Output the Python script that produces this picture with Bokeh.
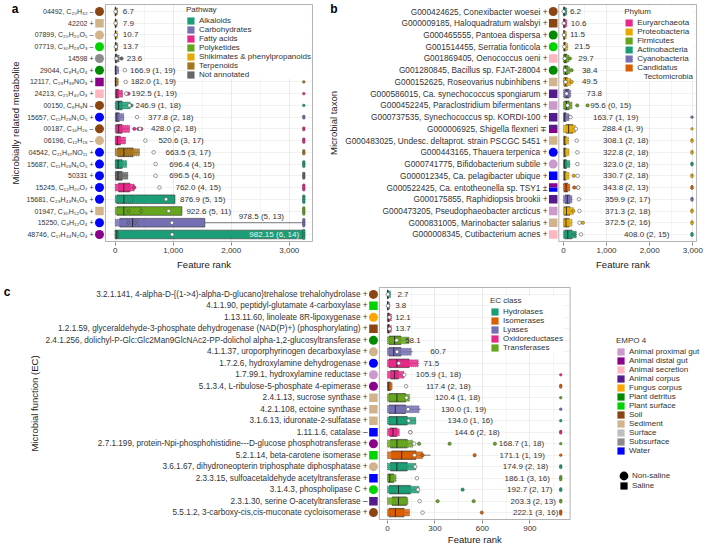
from bokeh.plotting import figure
from bokeh.models import (ColumnDataSource, FixedTicker, NumeralTickFormatter, LinearAxis,
                          Range1d, LabelSet, Legend, LegendItem)
from bokeh.layouts import column, row
from bokeh.core.properties import value
from bokeh.embed import file_html
from bokeh.resources import INLINE

FONT = "Liberation Sans"
TXT = "#333333"
NAN = float("nan")

# ---------------- legends / colour keys ----------------
EMPO = ["Animal proximal gut", "Animal distal gut", "Animal secretion", "Animal corpus",
        "Fungus corpus", "Plant detritus", "Plant surface", "Soil", "Sediment",
        "Surface", "Subsurface", "Water"]
EMPO_COL = ["#CC99CC", "#8B008B", "#FFB6C1", "#551A8B", "#FFA500", "#008B00",
            "#00D400", "#8B4513", "#D2B48C", "#BEBEBE", "#8C8C8C", "#0000FF"]
PATHWAYS = ["Alkaloids", "Carbohydrates", "Fatty acids", "Polyketides",
            "Shikimates & phenylpropanoids", "Terpenoids", "Not annotated"]
PATHWAY_COL = ["#1B9E77", "#7570B3", "#E7298A", "#66A61E", "#E6AB02", "#A6761D", "#666666"]
PHYLA = ["Euryarchaeota", "Proteobacteria", "Firmicutes", "Actinobacteria",
         "Cyanobacteria", "Candidatus Tectomicrobia"]
PHYLUM_COL = ["#E7298A", "#E6AB02", "#66A61E", "#1B9E77", "#7570B3", "#D95F02"]
EC = ["Hydrolases", "Isomerases", "Lyases", "Oxidoreductases", "Transferases"]
EC_COL = ["#1B9E77", "#D95F02", "#7570B3", "#E7298A", "#66A61E"]

# ---------------- panel a: metabolites ----------------
names_a = ["04492, C₂₀H₃₂", "42202", "07899, C₂₀H₂₀O₅", "07719, C₃₀H₂₈O₃", "14598",
           "29044, C₈H₆O₄", "12117, C₂₈H₃₉NO₃", "24213, C₂₅H₄₀O₃", "00150, C₈H₉N",
           "15657, C₁₅H₂₉N₅O₅", "00187, C₁₆H₂₆", "06196, C₁₂H₁₈", "04542, C₂₁H₃₇NO₁₁",
           "15687, C₁₅H₂₈N₆O₅", "50331", "15245, C₁₂H₂₀O₇", "15681, C₂₃H₄₃N₅O₈",
           "01947, C₃₀H₅₂O₉", "15250, C₈H₁₂O₄", "48746, C₁₇H₃₄N₂O₄"]
signs_a = ["–", "+", "–", "–", "+", "+", "+", "+", "–", "+", "–", "–", "+", "+", "+",
           "+", "+", "+", "+", "+"]
empo_a = ["Soil", "Sediment", "Sediment", "Plant surface", "Subsurface", "Plant detritus",
          "Animal distal gut", "Animal secretion", "Soil", "Water", "Soil", "Sediment",
          "Water", "Water", "Water", "Water", "Water", "Sediment", "Water", "Animal distal gut"]
saline_a = ["N", "S", "N", "N", "N", "N", "S", "S", "N", "N", "N", "N", "N", "N", "N",
            "N", "N", "S", "N", "N"]
pathway_a = ["Terpenoids", "Terpenoids", "Shikimates & phenylpropanoids", "Terpenoids",
             "Not annotated", "Carbohydrates", "Terpenoids", "Fatty acids", "Alkaloids",
             "Carbohydrates", "Fatty acids", "Fatty acids", "Terpenoids", "Alkaloids",
             "Not annotated", "Fatty acids", "Alkaloids", "Polyketides", "Carbohydrates",
             "Alkaloids"]
q1_a = [2, 2, 3, 4, 5, 3, 3, 10, 20, 10, 20, 10, 45, 10, 10, 60, 30, 30, 80, 0]
med_a = [5, 5, 7, 9, 12, 8, 8, 30, 60, 30, 60, 40, 150, 50, 50, 150, 150, 150, 300, 30]
q3_a = [12, 12, 15, 18, 25, 20, 20, 60, 120, 70, 120, 90, 310, 120, 120, 255, 1030, 1150, 1545, 3250]
cloud_a = [40, 35, 40, 45, 70, 60, 55, 130, 260, 150, 250, 180, 420, 200, 220, 330, 300, 450, 400, 60]
whi_a = [40, 35, 40, 45, 70, 60, 55, 130, 260, 150, 250, 180, 420, 200, 220, 330, 1030, 1150, 3250, 3250]
mean_a = [6.7, 7.9, 10.7, 13.7, 23.6, 166.9, 182.0, 192.5, 246.9, 377.8, 428.0, 520.6,
          663.5, 696.4, 696.5, 762.0, 876.9, 922.6, 978.5, 982.15]
nout_a = [None] * 5 + [1, 1, 1, 1, 2, 2, 3, 3, 4, 4, 4, 5, 5, 5, 6]
nin_a = [None] * 5 + [19, 19, 19, 18, 18, 18, 17, 17, 15, 16, 15, 15, 11, 13, 14]
extra_a_x = [110, 200, 230, 280, 330, 400, 450, 330, 228, 450, 228, 340]
extra_a_row = [5, 8, 8, 9, 11, 11, 11, 16, 18, 18, 19, 19]
outlier_a = 3250
labelx_a = [133, 133, 133, 133, 200, 258, 267, 283, 350, 567, 617, 745, 867, 933, 933,
            1039, 1117, 1228, 2128, 2311]

# ---------------- panel b: taxa ----------------
names_b = ["G000424625, Conexibacter woesei", "G000009185, Haloquadratum walsbyi",
           "G000465555, Pantoea dispersa", "G001514455, Serratia fonticola",
           "G001869405, Oenococcus oeni", "G001280845, Bacillus sp. FJAT-28004",
           "G000152625, Roseovarius nubinhibens", "G000586015, Ca. synechococcus spongiarum",
           "G000452245, Paraclostridium bifermentans", "G000737535, Synechococcus sp. KORDI-100",
           "G000006925, Shigella flexneri", "G000483025, Undesc. deltaprot. strain PSCGC 5451",
           "G000443165, Thauera terpenica", "G000741775, Bifidobacterium subtile",
           "G000012345, Ca. pelagibacter ubique", "G000522425, Ca. entotheonella sp. TSY1",
           "G000175855, Raphidiopsis brookii", "G000473205, Pseudophaeobacter arcticus",
           "G000831005, Marinobacter salarius", "G000008345, Cutibacterium acnes"]
signs_b = ["+"] * 10 + ["∓"] + ["+"] * 4 + ["±"] + ["+"] * 4
empo_b = ["Soil", "Soil", "Plant detritus", "Plant surface", "Animal secretion",
          "Plant detritus", "Sediment", "Animal corpus", "Animal proximal gut",
          "Animal corpus", "Animal corpus|Animal distal gut", "Sediment", "Water",
          "Animal proximal gut", "Water", "Animal distal gut|Water", "Animal corpus",
          "Animal proximal gut", "Sediment", "Animal secretion"]
saline_b = ["N", "S", "N", "N", "S", "N", "S", "S", "S", "S", "S|N", "S", "N", "N",
            "S", "S|S", "S", "S", "S", "S"]
phylum_b = ["Actinobacteria", "Euryarchaeota", "Proteobacteria", "Proteobacteria",
            "Firmicutes", "Firmicutes", "Proteobacteria", "Cyanobacteria", "Firmicutes",
            "Cyanobacteria", "Proteobacteria", "Proteobacteria", "Proteobacteria",
            "Actinobacteria", "Proteobacteria", "Candidatus Tectomicrobia", "Cyanobacteria",
            "Proteobacteria", "Proteobacteria", "Actinobacteria"]
q1_b = [5, 5, 5, 10, 15, 20, 20, 30, 30, 10, 60, 10, 10, 10, 10, 20, 40, 20, 20, 30]
med_b = [15, 15, 15, 25, 40, 50, 50, 80, 70, 30, 120, 30, 30, 30, 30, 60, 90, 70, 60, 100]
q3_b = [40, 40, 35, 50, 80, 100, 90, 130, 130, 60, 220, 60, 60, 70, 60, 100, 150, 150, 130, 200]
cloud_b = [80, 80, 70, 100, 130, 150, 170, 170, 200, 130, 280, 120, 130, 150, 130, 150, 200, 230, 200, 300]
whi_b = cloud_b
mean_b = [6.2, 10.6, 11.5, 21.5, 29.7, 38.4, 49.5, 73.8, 95.6, 163.7, 288.4, 308.1,
          322.8, 323.0, 330.7, 343.8, 359.9, 371.3, 372.5, 408.0]
nout_b = [None] * 8 + [0, 1, 1, 2, 2, 2, 2, 2, 2, 2, 2, 2]
nin_b = [None] * 8 + [15, 19, 9, 18, 18, 18, 18, 13, 17, 18, 16, 15]
extra_b_x = [150, 190, 190, 320, 560, 150, 240, 250, 340, 450, 250, 230]
extra_b_row = [5, 6, 7, 9, 9, 10, 15, 16, 16, 19, 20, 18]
outlier_b = 2980
labelx_b = [150, 171, 150, 257, 343, 428, 428, 535, 621, 685, 900, 920, 920, 920, 920,
            920, 964, 964, 964, 1406]

# ---------------- panel c: functions ----------------
names_c = ["3.2.1.141, 4-alpha-D-{(1->4)-alpha-D-glucano}trehalose trehalohydrolase",
           "4.1.1.90, peptidyl-glutamate 4-carboxylase",
           "1.13.11.60, linoleate 8R-lipoxygenase",
           "1.2.1.59, glyceraldehyde-3-phosphate dehydrogenase (NAD(P)+) (phosphorylating)",
           "2.4.1.256, dolichyl-P-Glc:Glc2Man9GlcNAc2-PP-dolichol alpha-1,2-glucosyltransferase",
           "4.1.1.37, uroporphyrinogen decarboxylase",
           "1.7.2.6, hydroxylamine dehydrogenase",
           "1.7.99.1, hydroxylamine reductase",
           "5.1.3.4, L-ribulose-5-phosphate 4-epimerase",
           "2.4.1.13, sucrose synthase",
           "4.2.1.108, ectoine synthase",
           "3.1.6.13, iduronate-2-sulfatase",
           "1.11.1.6, catalase",
           "2.7.1.199, protein-Npi-phosphohistidine---D-glucose phosphotransferase",
           "5.2.1.14, beta-carotene isomerase",
           "3.6.1.67, dihydroneopterin triphosphate diphosphatase",
           "2.3.3.15, sulfoacetaldehyde acetyltransferase",
           "3.1.4.3, phospholipase C",
           "2.3.1.30, serine O-acetyltransferase",
           "5.5.1.2, 3-carboxy-cis,cis-muconate cycloisomerase"]
signs_c = ["+"] * 12 + ["–"] + ["+"] * 5 + ["–", "+"]
empo_c = ["Soil", "Plant surface", "Fungus corpus", "Soil", "Plant detritus", "Sediment",
          "Water", "Animal proximal gut", "Animal distal gut", "Sediment", "Sediment",
          "Sediment", "Water", "Animal distal gut", "Plant surface", "Sediment", "Water",
          "Plant surface", "Animal corpus", "Soil"]
saline_c = ["N", "S", "N", "S", "N", "N", "N", "N", "N", "S", "S", "S", "S", "N", "S",
            "N", "S", "N", "S", "N"]
ec_c = ["Hydrolases", "Lyases", "Oxidoreductases", "Oxidoreductases", "Transferases",
        "Lyases", "Oxidoreductases", "Oxidoreductases", "Isomerases", "Transferases",
        "Lyases", "Hydrolases", "Oxidoreductases", "Transferases", "Isomerases",
        "Hydrolases", "Transferases", "Hydrolases", "Transferases", "Isomerases"]
q1_c = [0, 0, 2, 2, 10, 10, 10, 20, 2, 10, 10, 10, 15, 20, 27, 20, 5, 13, 30, 10]
med_c = [1, 2, 6, 6, 45, 40, 60, 45, 8, 60, 50, 60, 35, 60, 90, 60, 15, 70, 70, 50]
q3_c = [5, 5, 12, 12, 85, 85, 137, 70, 20, 115, 115, 125, 60, 125, 180, 125, 40, 145, 120, 105]
cloud_c = [20, 15, 25, 25, 137, 150, 195, 105, 30, 140, 200, 180, 75, 160, 222, 180, 55, 200, 130, 140]
whi_c = [20, 15, 25, 25, 137, 160, 195, 105, 30, 140, 210, 180, 75, 160, 272, 180, 55, 200, 130, 140]
mean_c = [2.7, 3.8, 12.1, 13.7, 58.1, 60.7, 71.5, 105.9, 117.4, 120.4, 130.0, 134.0,
          144.6, 168.7, 171.1, 174.9, 186.1, 192.7, 203.3, 222.1]
nout_c = [None] * 7 + [1, 2, 1, 1, 1, 2, 1, 1, 2, 3, 2, 2, 3]
nin_c = [None] * 7 + [18, 18, 18, 19, 16, 18, 18, 19, 18, 16, 17, 13, 16]
extra_c_x = [145, 200, 393, 679, 222, 551, 475, 317, 545, 596]
extra_c_row = [13, 14, 14, 14, 15, 15, 18, 19, 19, 20]
outlier_c = 1095
labelx_c = [63, 49, 49, 49, 112, 271, 228, 179, 243, 300, 338, 380, 423, 704, 708, 729,
            740, 756, 778, 793]

EMPO_MAP = dict(zip(EMPO, EMPO_COL))
MC = 11  # px column between the category labels and the panel, for the EMPO markers


def legend_kw(fs="8px"):
    return dict(padding=3, spacing=0, glyph_height=9, glyph_width=9, label_height=9,
                label_standoff=4, label_text_font=FONT, label_text_font_size=fs,
                label_text_color=TXT, title_text_font=FONT, title_text_font_size=fs,
                title_text_font_style="normal", title_text_color=TXT, title_standoff=2,
                border_line_color=None, background_fill_color="white",
                background_fill_alpha=1)


def style_axis(ax):
    ax.axis_line_color = None
    ax.major_tick_line_color = "#333333"
    ax.major_tick_line_width = 0.6
    ax.major_tick_out = 3
    ax.major_tick_in = 0
    ax.minor_tick_line_color = None
    ax.major_label_text_font = FONT
    ax.major_label_text_font_size = "8px"
    ax.major_label_text_color = TXT
    ax.axis_label_text_font = FONT
    ax.axis_label_text_font_size = "9.5px"
    ax.axis_label_text_font_style = "normal"
    ax.axis_label_text_color = "#1a1a1a"


def make_panel(names, signs, empo, saline, cls, cls_keys, cls_cols, q1, med, q3, cloud, whi,
               mean, nout, nin, ex_x, ex_row, out_x, labelx, *, width, height, border,
               x0, x1, ticks, minor, ylabel, letter, label_fs, letter_pad=2, right_extra=0,
               special=None):
    l, r, t, b = border
    n = len(names)
    fw, fh = width - l - r, height - t - b
    dpp = (x1 - x0) / (fw - MC - right_extra)
    ypp = (n + 0.2) / fh
    xs = x0 - MC * dpp
    xe = x1 + (right_extra + 1) * dpp
    cmap = dict(zip(cls_keys, cls_cols))
    ys = list(range(1, n + 1))
    p = figure(width=width, height=height, output_backend="svg", toolbar_location=None,
               x_range=Range1d(xs, xe), y_range=Range1d(n + 0.6 + ypp, 0.4 - ypp),
               min_border_left=l, min_border_right=r, min_border_top=t, min_border_bottom=b)
    p.outline_line_color = None
    p.border_fill_color = "white"

    # white strips that keep the grid out of the marker column (and legend area)
    p.quad(left=[xs - 20 * dpp], right=[x0], bottom=[n + 2], top=[-1],
           fill_color="white", line_color=None)
    if right_extra:
        p.quad(left=[x1], right=[xe + 20 * dpp], bottom=[n + 2], top=[-1],
               fill_color="white", line_color=None)

    cols = [cmap[c] for c in cls]
    src = ColumnDataSource(dict(y=ys, lo=[0] * n, q1=q1, med=med, q3=q3, cloud=cloud,
                                whi=whi, mean=mean, color=cols,
                                y0=[y - 0.36 for y in ys], y1=[y + 0.36 for y in ys]))
    p.segment(x0="q3", x1="whi", y0="y", y1="y", line_color="#444444", line_width=0.7, source=src)
    p.hbar(y="y", left="q1", right="q3", height=0.74, fill_color="color", line_color="#333333",
           line_width=0.6, source=src)
    p.hbar(y="y", left="lo", right="cloud", height=0.6, fill_color="color", fill_alpha=0.85,
           line_color="#3a3a3a", line_alpha=0.6, line_width=0.8, line_dash="1 1", source=src)
    p.segment(x0="med", x1="med", y0="y0", y1="y1", line_color="#222222", line_width=0.9, source=src)

    esrc = ColumnDataSource(dict(x=ex_x, y=ex_row, c=[cols[k - 1] for k in ex_row]))
    p.scatter(x="x", y="y", size=3.4, fill_color="c", line_color="#333333", line_width=0.4, source=esrc)

    ox, oy, oc = [], [], []
    for i, k in enumerate(nout):
        if not k:
            continue
        for j in range(k):
            ox.append(out_x)
            oy.append(i + 1 + (j - (k - 1) / 2) * 0.13)
            oc.append(cols[i])
    p.scatter(x="x", y="y", size=2.8, fill_color="c", line_color="#333333", line_width=0.3,
              source=ColumnDataSource(dict(x=ox, y=oy, c=oc)))

    p.scatter(x="mean", y="y", size=3.6, fill_color="white", line_color="#555555",
              line_width=0.6, source=src)

    texts = [f"{m}" if a is None else f"{m} ({a}, {bb})" for m, a, bb in zip(mean, nout, nin)]
    ly, lc = list(ys), [TXT] * n
    for i, dy, c in (special or []):
        ly[i] += dy
        if c:
            lc[i] = c
    p.add_layout(LabelSet(x="x", y="y", text="t", text_color="c",
                          source=ColumnDataSource(dict(x=labelx, y=ly, t=texts, c=lc)),
                          text_font=value(FONT), text_font_size="8px",
                          text_baseline="middle", text_align="left"))

    # EMPO markers (shape = salinity)
    mxc = x0 - 6 * dpp
    cx, cy, cc, sx, sy, sc, hx, hy, hc = [], [], [], [], [], [], [], [], []
    for i, (e, s) in enumerate(zip(empo, saline)):
        es, ss = e.split("|"), s.split("|")
        if len(es) == 1:
            if ss[0] == "S":
                sx.append(mxc); sy.append(i + 1); sc.append(EMPO_MAP[es[0]])
            else:
                cx.append(mxc); cy.append(i + 1); cc.append(EMPO_MAP[es[0]])
        else:
            for j, e2 in enumerate(es):
                hx.append(mxc); hy.append(i + 1 + (j - 0.5) * 4.2 * ypp); hc.append(EMPO_MAP[e2])
    p.scatter(x=cx, y=cy, size=9, marker="circle", fill_color=cc, line_color=None)
    p.scatter(x=sx, y=sy, size=8.5, marker="square", fill_color=sc, line_color=None)
    p.rect(x=hx, y=hy, width=8.5, height=4.25, width_units="screen", height_units="screen",
           fill_color=hc, line_color=None)

    # panel border
    p.quad(left=[x0], right=[x1], bottom=[n + 0.6], top=[0.4], fill_color=None,
           line_color="#9E9E9E", line_width=0.8)

    p.xaxis.ticker = FixedTicker(ticks=ticks, minor_ticks=minor)
    p.xaxis.formatter = NumeralTickFormatter(format="0,0")
    p.yaxis.ticker = FixedTicker(ticks=ys)
    p.yaxis.major_label_overrides = {y: f"{nm} {sg}" for y, nm, sg in zip(ys, names, signs)}
    p.yaxis.axis_label = ylabel
    for ax in p.axis:
        style_axis(ax)
    p.yaxis.major_tick_line_color = None
    p.yaxis.major_tick_out = 0
    p.yaxis.major_label_text_font_size = label_fs
    p.xaxis.major_label_standoff = 1
    p.yaxis.major_label_standoff = 1
    p.yaxis.axis_label_standoff = 3
    p.xgrid.grid_line_color = "#E3E3E3"
    p.xgrid.grid_line_width = 0.7
    p.xgrid.minor_grid_line_color = "#EFEFEF"
    p.xgrid.minor_grid_line_width = 0.6
    p.ygrid.grid_line_color = "#E9E9E9"
    p.ygrid.grid_line_width = 0.6

    if right_extra:
        # x title centred under the panel itself (the frame also holds the legend area)
        xc = int(round((x0 + x1) / 2))
        xt = LinearAxis(ticker=FixedTicker(ticks=[xc]), major_label_overrides={xc: "Feature rank"})
        style_axis(xt)
        xt.major_tick_line_color = None
        xt.major_tick_out = 0
        xt.major_label_standoff = 0
        xt.major_label_text_font_size = "9.5px"
        xt.major_label_text_color = "#1a1a1a"
        p.add_layout(xt, "below")
    else:
        p.xaxis.axis_label = "Feature rank"
        p.xaxis.axis_label_standoff = 3

    # panel letter, as the outermost left axis
    la = LinearAxis(ticker=FixedTicker(ticks=[0.8]), major_label_overrides={0.8: letter})
    style_axis(la)
    la.major_tick_line_color = None
    la.major_tick_out = 0
    la.major_label_standoff = letter_pad
    la.major_label_text_font_size = "12px"
    la.major_label_text_font_style = "bold"
    la.major_label_text_color = "black"
    p.add_layout(la, "left")
    return p, dpp, fh


def add_legend(p, title, labels, colors, location, margin, **kw):
    items = []
    for lab, col in zip(labels, colors):
        rr = p.quad(left=[NAN], right=[NAN], bottom=[NAN], top=[NAN],
                    fill_color=col, line_color=None, fill_alpha=1 if col else 0)
        items.append(LegendItem(label=lab, renderers=[rr]))
    opts = legend_kw()
    opts.update(kw)
    leg = Legend(items=items, location=location, title=title, margin=margin, **opts)
    p.add_layout(leg)
    return leg


pa, _, _ = make_panel(names_a, signs_a, empo_a, saline_a, pathway_a, PATHWAYS, PATHWAY_COL,
                      q1_a, med_a, q3_a, cloud_a, whi_a, mean_a, nout_a, nin_a,
                      extra_a_x, extra_a_row, outlier_a, labelx_a,
                      width=325, height=272, border=(94, 12, 3, 30), x0=-167, x1=3400,
                      ticks=[0, 1000, 2000, 3000], minor=[500, 1500, 2500],
                      ylabel="Microbially related metabolite", letter="a", label_fs="7px",
                      letter_pad=-12, special=[(18, -0.5, None), (19, 0, "#E8F4EE")])
add_legend(pa, "Pathway", PATHWAYS, PATHWAY_COL, "top_right", 2)

pb, _, _ = make_panel(names_b, signs_b, empo_b, saline_b, phylum_b, PHYLA, PHYLUM_COL,
                      q1_b, med_b, q3_b, cloud_b, whi_b, mean_b, nout_b, nin_b,
                      extra_b_x, extra_b_row, outlier_b, labelx_b,
                      width=380, height=272, border=(214, 8, 3, 30), x0=-107, x1=3086,
                      ticks=[0, 1000, 2000, 3000], minor=[500, 1500, 2500],
                      ylabel="Microbial taxon", letter="b", label_fs="8.3px", letter_pad=-12)
add_legend(pb, "Phylum", PHYLA[:5] + ["Candidatus", "   Tectomicrobia"],
           PHYLUM_COL + [None], "top_right", 4)

RX = 132  # px of legend area right of panel c
pc, dpc, fhc = make_panel(names_c, signs_c, empo_c, saline_c, ec_c, EC, EC_COL,
                          q1_c, med_c, q3_c, cloud_c, whi_c, mean_c, nout_c, nin_c,
                          extra_c_x, extra_c_row, outlier_c, labelx_c,
                          width=705, height=275, border=(365, 4, 14, 26), x0=-51, x1=1154,
                          ticks=[0, 300, 600, 900], minor=[150, 450, 750, 1050],
                          ylabel="Microbial function (EC)", letter="c", label_fs="8.2px",
                          letter_pad=15, right_extra=RX)
visw = 705 - 365 - 4 - MC - RX
add_legend(pc, "EC class", EC, EC_COL, (MC + visw - 82, fhc - 67), 0)
add_legend(pc, "EMPO 4", EMPO, EMPO_COL, (MC + visw + 44, fhc - 170), 0)

# salinity shapes
ell = pc.ellipse(x=[NAN], y=[NAN], width=[9], height=[9], width_units="screen",
                 height_units="screen", fill_color="black", line_color=None)
kw = legend_kw()
kw.update(padding=0, glyph_height=11, glyph_width=11, label_height=11, label_standoff=3,
          background_fill_alpha=0)
pc.add_layout(Legend(items=[LegendItem(label="Non-saline", renderers=[ell])],
                     location=(MC + visw + 46, fhc - 196), margin=0, **kw))
sq = pc.quad(left=[NAN], right=[NAN], bottom=[NAN], top=[NAN], fill_color="black", line_color=None)
kw = legend_kw()
kw.update(padding=0, glyph_height=9, glyph_width=9, label_height=9, label_standoff=4,
          background_fill_alpha=0)
pc.add_layout(Legend(items=[LegendItem(label="Saline", renderers=[sq])],
                     location=(MC + visw + 47, fhc - 205), margin=0, **kw))

layout = column(row(pa, pb), pc)
open("out.html", "w").write(file_html(layout, INLINE))
